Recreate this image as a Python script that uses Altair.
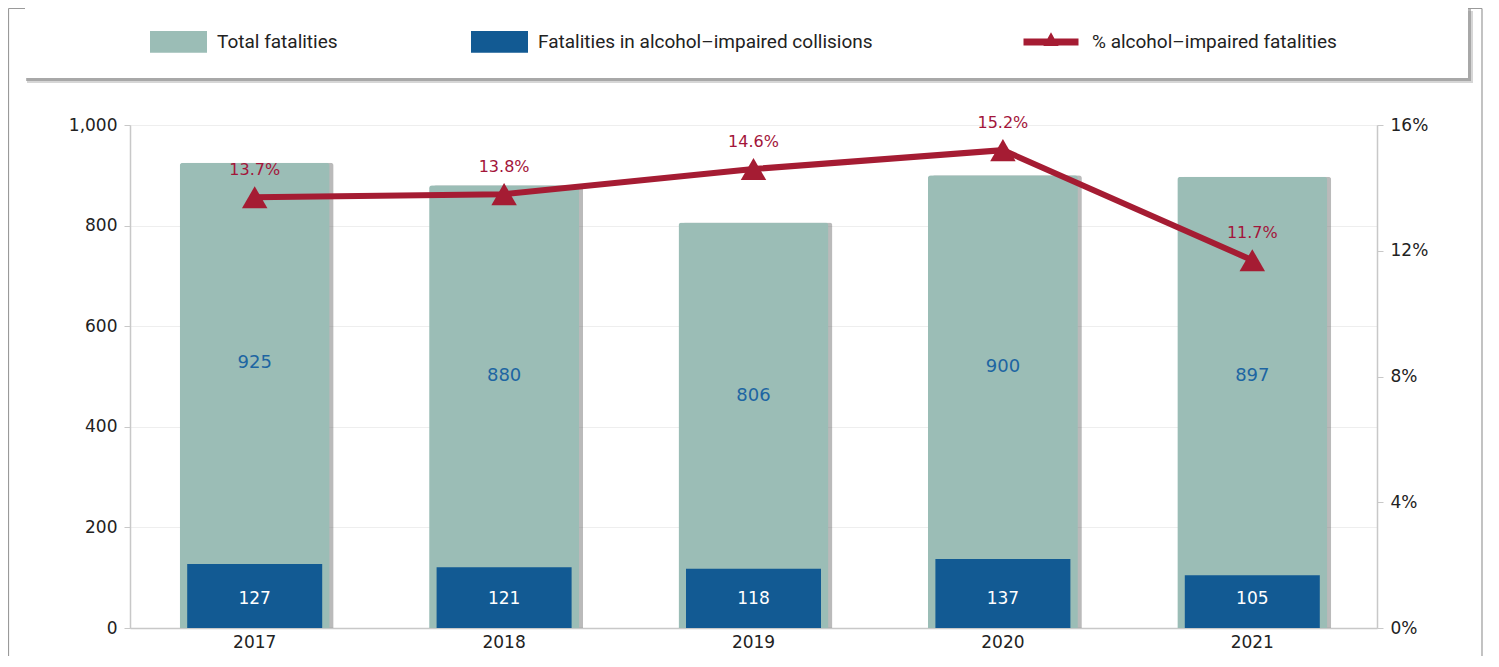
import altair as alt
import pandas as pd

years = ["2017", "2018", "2019", "2020", "2021"]
total = [925, 880, 806, 900, 897]
alcohol = [127, 121, 118, 137, 105]
pct = [13.7, 13.8, 14.6, 15.2, 11.7]

S_TOTAL = "Total fatalities"
S_ALC = "Fatalities in alcohol\u2013impaired collisions"
S_PCT = "% alcohol\u2013impaired fatalities"

GREEN = "#9bbdb6"
BLUE = "#125a93"
RED = "#a51c33"
NUMFONT = "DejaVu Sans"

df = pd.DataFrame({"year": years, "total": total, "alcohol": alcohol, "pct": pct})
deco = pd.DataFrame({"k": [0]})

W, H = 1247, 503

x_enc = alt.X("year:N", sort=years, title=None,
              scale=alt.Scale(paddingInner=0, paddingOuter=0),
              axis=alt.Axis(labelFont=NUMFONT, labelFontSize=17, labelColor="#222",
                            ticks=False, domainColor="#c8c8c8", domainWidth=1.5,
                            labelPadding=6, labelAngle=0))

left_axis = alt.Axis(values=[0, 200, 400, 600, 800, 1000],
                     labelExpr="format(datum.value, ',')", labelFont=NUMFONT,
                     labelFontSize=17, labelColor="#222", tickColor="#c8c8c8",
                     domainColor="#c8c8c8", domainWidth=1.5, tickSize=6, labelPadding=7,
                     gridColor="#eeeeee", grid=True)
yscale_left = alt.Scale(domain=[0, 1000], nice=False)

# decorations: frame and legend box
frame = alt.Chart(deco)
legend_shadow2 = frame.mark_rect(color="#bbbbbb", opacity=0.6).encode(
    x=alt.value(-103), x2=alt.value(1343), y=alt.value(-114), y2=alt.value(-42))
legend_shadow = frame.mark_rect(color="#888888", opacity=0.6).encode(
    x=alt.value(-104), x2=alt.value(1341), y=alt.value(-116), y2=alt.value(-44))
legend_box = frame.mark_rect(color="white").encode(
    x=alt.value(-105), x2=alt.value(1338), y=alt.value(-117), y2=alt.value(-47))
frame_left = frame.mark_rule(color="#9a9a9a", strokeWidth=1.2).encode(
    x=alt.value(-121.5), y=alt.value(-116.5), y2=alt.value(H + 40))
frame_right = frame.mark_rule(color="#9a9a9a", strokeWidth=1.2).encode(
    x=alt.value(1352), y=alt.value(-116.5), y2=alt.value(H + 40))
frame_top = frame.mark_rule(color="#9a9a9a", strokeWidth=1.2).encode(
    x=alt.value(-121.5), x2=alt.value(1352), y=alt.value(-116.5))

base = alt.Chart(df)

color_scale = alt.Scale(domain=[S_TOTAL, S_ALC], range=[GREEN, BLUE])
color_legend = alt.Legend(title=None, orient="none", legendX=20, legendY=-112,
                          direction="horizontal", symbolType="M-1,-0.38H1V0.38H-1Z",
                          symbolSize=3249, labelFont="Roboto", labelFontSize=19,
                          labelColor="#222", labelOffset=10, columnPadding=133,
                          labelLimit=0, padding=0, symbolStrokeWidth=0)

bar_shadow = base.mark_bar(size=150, color="#666666", opacity=0.45, xOffset=4,
                           cornerRadiusTopLeft=3, cornerRadiusTopRight=3).encode(
    x=x_enc, y=alt.Y("total:Q", scale=yscale_left, axis=left_axis, title=None))
bars_total = base.transform_calculate(series=f"'{S_TOTAL}'").mark_bar(
    size=150, cornerRadiusTopLeft=3, cornerRadiusTopRight=3).encode(
    x=x_enc, y=alt.Y("total:Q", scale=yscale_left, axis=left_axis, title=None),
    color=alt.Color("series:N", scale=color_scale, legend=color_legend))
bars_alc = base.transform_calculate(series=f"'{S_ALC}'").mark_bar(size=135).encode(
    x=x_enc, y=alt.Y("alcohol:Q", scale=yscale_left, axis=left_axis, title=None),
    color=alt.Color("series:N", scale=color_scale, legend=color_legend))
text_total = base.transform_calculate(mid="(datum.total + datum.alcohol) / 2").mark_text(
    font=NUMFONT, fontSize=18, color="#1d65a2").encode(
    x=x_enc, y=alt.Y("mid:Q", scale=yscale_left, axis=left_axis, title=None),
    text=alt.Text("total:Q"))
text_alc = base.transform_calculate(base0="0").mark_text(
    font=NUMFONT, fontSize=17, color="white", dy=-29).encode(
    x=x_enc, y=alt.Y("base0:Q", scale=yscale_left, axis=left_axis, title=None),
    text=alt.Text("alcohol:Q"))

left = alt.layer(frame_top, frame_left, frame_right, legend_shadow2, legend_shadow, legend_box,
                 bar_shadow, bars_total, bars_alc, text_total, text_alc)

right_axis = alt.Axis(values=[0, 4, 8, 12, 16], labelExpr="datum.value + '%'", orient="right",
                      labelFont=NUMFONT, labelFontSize=17, labelColor="#222",
                      tickColor="#c8c8c8", domainColor="#c8c8c8", domainWidth=1.5,
                      tickSize=6, labelPadding=7, grid=False)
yscale_right = alt.Scale(domain=[0, 16], nice=False)

stroke_legend = alt.Legend(title=None, orient="none", legendX=890, legendY=-114,
                           symbolType="M-1,0H1M-0.06,0.02L0,-0.09L0.06,0.02Z",
                           symbolSize=3025, symbolStrokeWidth=7, symbolFillColor=RED,
                           labelFont="Roboto", labelFontSize=19, labelColor="#222",
                           labelOffset=10, labelLimit=0, padding=0)

line = base.transform_calculate(series=f"'{S_PCT}'").mark_line(strokeWidth=6).encode(
    x=x_enc, y=alt.Y("pct:Q", scale=yscale_right, axis=right_axis, title=None),
    stroke=alt.Stroke("series:N", scale=alt.Scale(domain=[S_PCT], range=[RED]),
                      legend=stroke_legend))
points = base.mark_point(shape="triangle-up", size=650, filled=True, opacity=1,
                         color=RED).encode(
    x=x_enc, y=alt.Y("pct:Q", scale=yscale_right, axis=right_axis, title=None))
pct_text = base.transform_calculate(lab="format(datum.pct, '.1f') + '%'").mark_text(
    font=NUMFONT, fontSize=16, color="#a3153a", dy=-27).encode(
    x=x_enc, y=alt.Y("pct:Q", scale=yscale_right, axis=right_axis, title=None),
    text="lab:N")

right = alt.layer(line, points, pct_text)

chart = alt.layer(left, right).resolve_scale(y="independent").properties(
    width=W, height=H,
    autosize=alt.AutoSizeParams(type="none"),
    padding={"left": 122, "top": 117, "right": 108, "bottom": 28},
).configure_view(stroke=None).configure(background="white")

chart.save("out.html", embed_options={"renderer": "svg", "actions": False})
